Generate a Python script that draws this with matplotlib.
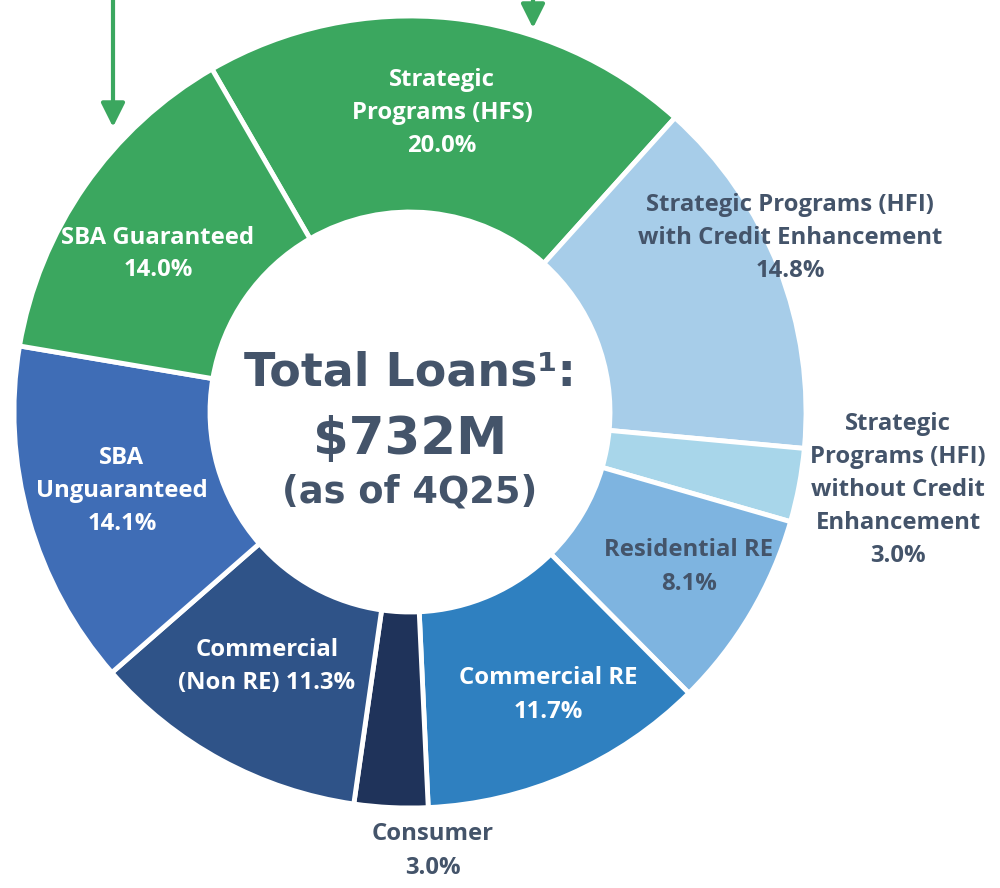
import numpy as np
import matplotlib.pyplot as plt

# loan mix, clockwise from the top
categories = ['Strategic Programs (HFS)',
              'Strategic Programs (HFI) with Credit Enhancement',
              'Strategic Programs (HFI) without Credit Enhancement',
              'Residential RE', 'Commercial RE', 'Consumer',
              'Commercial (Non RE)', 'SBA Unguaranteed', 'SBA Guaranteed']
shares = [20.0, 14.8, 3.0, 8.1, 11.7, 3.0, 11.3, 14.1, 14.0]
label_text = ['Strategic\nPrograms (HFS)',
              'Strategic Programs (HFI)\nwith Credit Enhancement',
              'Strategic\nPrograms (HFI)\nwithout Credit\nEnhancement',
              'Residential RE', 'Commercial RE', 'Consumer',
              'Commercial\n(Non RE)', 'SBA\nUnguaranteed', 'SBA Guaranteed']
total_text = ['Total Loans\u00b9:', '$732M', '(as of 4Q25)']

colors = ['#3ba75f', '#a7cde9', '#a8d6ea', '#7eb4e0', '#2f80c0',
          '#1f335a', '#2f5388', '#3f6db6', '#3ba75f']
dark = '#44546a'
label_colors = ['white', dark, dark, dark, 'white', dark, 'white', 'white', 'white']
# label anchors in pixels (x, y from top) and whether the % goes on the last line
label_pos = [(442, 113), (790, 238), (898, 490), (689, 567), (548, 695),
             (433, 851), (267, 667), (122, 491), (158, 254)]
pct_inline = [False, False, False, False, False, False, True, False, False]

W, H = 1000, 888
fig = plt.figure(figsize=(W / 100, H / 100), dpi=100)
ax = fig.add_axes([0, 0, 1, 1])

cx, cy, R = 410, 412, 396
ax.pie(shares, startangle=120, counterclock=False, colors=colors,
       radius=R, center=(cx, H - cy),
       wedgeprops=dict(width=R - 200, edgecolor='white', linewidth=3.5))
ax.set_xlim(0, W)
ax.set_ylim(0, H)
ax.set_aspect('equal')
ax.axis('off')

lab_font = dict(family=['Open Sans', 'DejaVu Sans'], fontweight='bold', fontsize=17.2)
for txt, val, (x, y), col, inl in zip(label_text, shares, label_pos, label_colors, pct_inline):
    s = txt + (' ' if inl else '\n') + f'{val:.1f}%'
    ax.text(x, H - y, s, ha='center', va='center', color=col,
            linespacing=1.5, **lab_font)

ctr_font = dict(family='DejaVu Sans', fontweight='bold', color=dark, ha='center', va='center')
ax.text(cx, H - 373, total_text[0], fontsize=33, **ctr_font)
ax.text(cx, H - 440, total_text[1], fontsize=37, **ctr_font)
ax.text(cx, H - 492, total_text[2], fontsize=26.5, **ctr_font)

# green pointer arrows coming in from above
green = '#3ba75f'
for x0, y1 in [(113, 127), (533, 28)]:
    ax.annotate('', xy=(x0, H - y1), xytext=(x0, H + 5),
                arrowprops=dict(arrowstyle='-|>', color=green, lw=3,
                                mutation_scale=36, shrinkA=0, shrinkB=0))

fig.savefig('out.png', dpi=100)
